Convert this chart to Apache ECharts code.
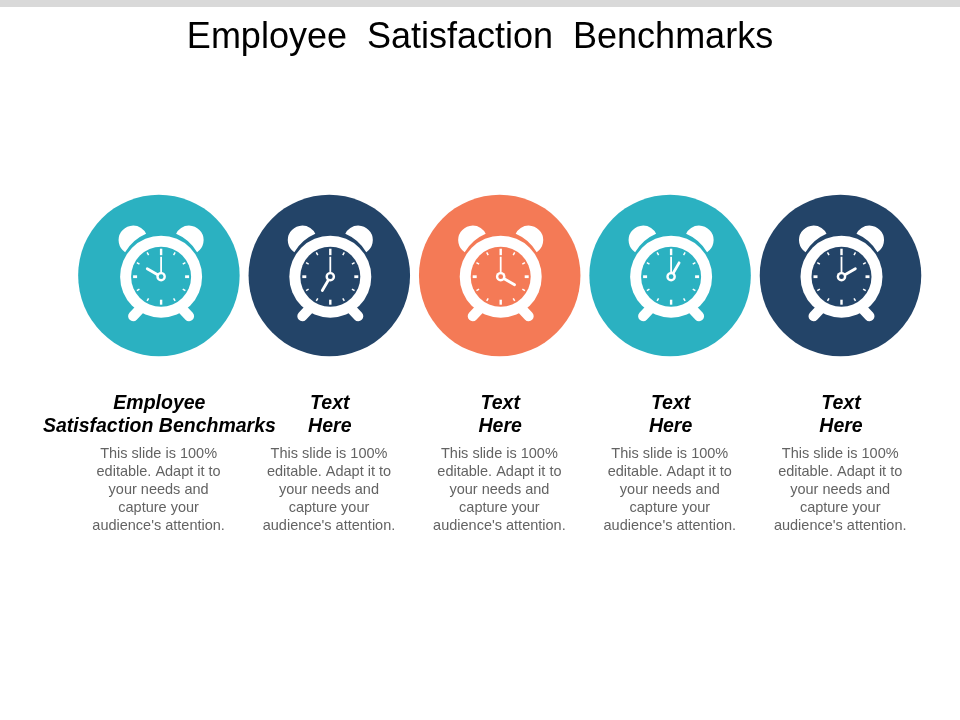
<!DOCTYPE html>
<html><head><meta charset="utf-8">
<script src="https://cdn.jsdelivr.net/npm/echarts@6/dist/echarts.min.js"></script>
<style>html,body{margin:0;padding:0;background:#fff}#c{width:960px;height:720px}</style>
</head><body><div id="c"></div>
<script>
var titleText = 'Employee  Satisfaction  Benchmarks';
var categories = ['A','B','C','D','E'];
var headings = ['Employee\nSatisfaction Benchmarks','Text\nHere','Text\nHere','Text\nHere','Text\nHere'];
var bodyText = "This slide is 100%\neditable. Adapt it to\nyour needs and\ncapture your\naudience's attention.";
var hourValues = [10,7,4,1,2];
var colors = ['#2bb1c1','#234468','#f47a56','#2bb1c1','#234468'];

var chart = echarts.init(document.getElementById('c'), null, {renderer:'canvas'});
var W='#ffffff';
function renderClock(params, api){
  var i = api.value(0), h = api.value(1);
  var p = api.coord([i, 0.5]);
  var cx = p[0]+(i===0?2.2:1), cy = p[1]+1.2;
  var col = colors[i];
  var kids = [];
  function ln(x1,y1,x2,y2,w,cap){
    kids.push({type:'line',shape:{x1:cx+x1,y1:cy+y1,x2:cx+x2,y2:cy+y2},style:{stroke:W,lineWidth:w,lineCap:cap||'butt'}});
  }
  // legs
  ln(-28,39.5,-20,31,10,'round');
  ln(28,39.5,20,31,10,'round');
  // ears
  kids.push({type:'path',shape:{pathData:'M-36 -24.5 A14.5 14.5 0 1 1 -15 -43 A44.5 44.5 0 0 0 -36 -24.5 Z'},position:[cx,cy],style:{fill:W}});
  kids.push({type:'path',shape:{pathData:'M36 -24.5 A14.5 14.5 0 1 0 15 -43 A44.5 44.5 0 0 1 36 -24.5 Z'},position:[cx,cy],style:{fill:W}});
  // body
  kids.push({type:'circle',shape:{cx:cx,cy:cy,r:41},style:{fill:W}});
  kids.push({type:'circle',shape:{cx:cx,cy:cy,r:30},style:{fill:col}});
  // ticks
  for(var t=0;t<12;t++){
    var a=t*Math.PI/6,s=Math.sin(a),c=-Math.cos(a),r1,r2,w;
    if(t===0){r1=21.5;r2=28;w=2.4;}
    else if(t===6){r1=23;r2=28;w=2.4;}
    else if(t%3===0){r1=24;r2=28;w=2.8;}
    else {r1=25;r2=28;w=1.5;}
    ln(s*r1,c*r1,s*r2,c*r2,w);
  }
  // hands
  ln(0,0,0,-20,1.8);
  var ha=h*Math.PI/6;
  ln(0,0,Math.sin(ha)*16,-Math.cos(ha)*16,2.8,'round');
  kids.push({type:'circle',shape:{cx:cx,cy:cy,r:4.8},style:{fill:W}});
  kids.push({type:'circle',shape:{cx:cx,cy:cy,r:2.4},style:{fill:col}});
  // text
  kids.push({type:'text',style:{x:p[0]+0.5,y:392,text:headings[i],align:'center',verticalAlign:'top',fontFamily:'Liberation Sans',fontWeight:'bold',fontStyle:'italic',fontSize:19.5,lineHeight:23,fill:'#000'}});
  kids.push({type:'text',style:{x:p[0]-0.3,y:445,text:bodyText,align:'center',verticalAlign:'top',fontFamily:'Liberation Sans',fontSize:14.5,lineHeight:18,fill:'#636363'}});
  return {type:'group',children:kids};
}
chart.setOption({
  animation:false,
  backgroundColor:'#fff',
  title:{text:titleText,left:'center',top:15,textStyle:{fontFamily:'Liberation Sans',fontWeight:'normal',fontSize:36,color:'#000'}},
  graphic:[{type:'rect',left:0,top:0,shape:{width:960,height:7},style:{fill:'#d9d9d9'}}],
  grid:{left:73.7,width:852,top:194.5,height:162},
  xAxis:{type:'category',data:categories,show:false},
  yAxis:{type:'value',min:0,max:1,show:false},
  series:[
    {type:'scatter',z:2,symbol:'circle',symbolSize:161.5,silent:true,
     data:categories.map(function(c,i){return {value:[i,0.5],itemStyle:{color:colors[i],opacity:1}};})},
    {type:'custom',z:5,silent:true,renderItem:renderClock,encode:{x:0,y:1},clip:false,
     data:hourValues.map(function(h,i){return [i,h];})}
  ]
});
</script></body></html>
